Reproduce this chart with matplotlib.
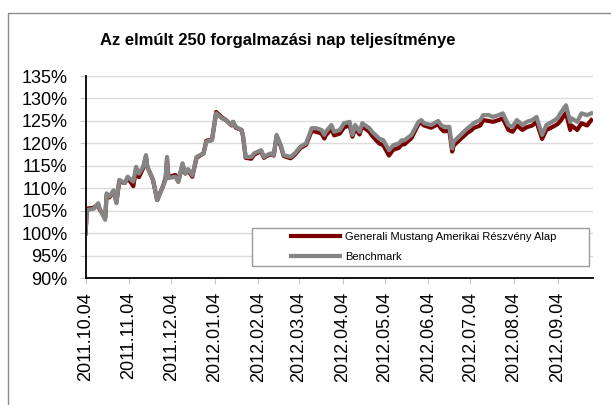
import matplotlib
matplotlib.use('Agg')
import matplotlib.pyplot as plt
import matplotlib.dates as mdates
from matplotlib.patches import Rectangle
from matplotlib.legend_handler import HandlerLine2D
from matplotlib.ticker import FuncFormatter
import pandas as pd

# values (index, %)
dates = ['2011-10-04', '2011-10-05', '2011-10-10', '2011-10-13', '2011-10-14', '2011-10-18',
         '2011-10-19', '2011-10-21', '2011-10-24', '2011-10-26', '2011-10-28', '2011-11-01',
         '2011-11-03', '2011-11-07', '2011-11-09', '2011-11-11', '2011-11-14', '2011-11-16',
         '2011-11-17', '2011-11-21', '2011-11-24', '2011-11-28', '2011-11-30', '2011-12-01',
         '2011-12-02', '2011-12-07', '2011-12-09', '2011-12-12', '2011-12-14', '2011-12-16',
         '2011-12-19', '2011-12-22', '2011-12-27', '2011-12-29', '2012-01-02', '2012-01-05',
         '2012-01-09', '2012-01-12', '2012-01-16', '2012-01-17', '2012-01-19', '2012-01-23',
         '2012-01-24', '2012-01-26', '2012-01-30', '2012-02-01', '2012-02-06', '2012-02-08',
         '2012-02-10', '2012-02-13', '2012-02-15', '2012-02-17', '2012-02-20', '2012-02-22',
         '2012-02-27', '2012-03-01', '2012-03-05', '2012-03-09', '2012-03-13', '2012-03-16',
         '2012-03-20', '2012-03-22', '2012-03-23', '2012-03-27', '2012-03-29', '2012-04-02',
         '2012-04-05', '2012-04-09', '2012-04-11', '2012-04-13', '2012-04-16', '2012-04-18',
         '2012-04-23', '2012-04-25', '2012-04-30', '2012-05-03', '2012-05-07', '2012-05-10',
         '2012-05-14', '2012-05-16', '2012-05-18', '2012-05-23', '2012-05-28', '2012-05-30',
         '2012-06-01', '2012-06-06', '2012-06-11', '2012-06-13', '2012-06-15', '2012-06-19',
         '2012-06-21', '2012-06-22', '2012-06-27', '2012-07-02', '2012-07-05', '2012-07-06',
         '2012-07-11', '2012-07-13', '2012-07-17', '2012-07-20', '2012-07-24', '2012-07-27',
         '2012-07-31', '2012-08-03', '2012-08-06', '2012-08-10', '2012-08-13', '2012-08-17',
         '2012-08-20', '2012-08-24', '2012-08-27', '2012-08-31', '2012-09-04', '2012-09-06',
         '2012-09-10', '2012-09-13', '2012-09-14', '2012-09-18', '2012-09-21', '2012-09-25',
         '2012-09-28']

fund = [100.0, 105.5, 105.7, 106.5, 105.3, 103.5, 108.5, 108.0, 109.3, 107.0, 111.5, 111.2,
        112.4, 110.5, 114.3, 112.5, 114.5, 117.0, 114.8, 111.9, 107.4, 110.4, 112.3, 116.5,
        112.5, 113.0, 111.5, 115.2, 113.3, 114.0, 112.6, 116.8, 117.8, 120.6, 120.8, 127.0,
        125.8, 125.2, 124.0, 124.8, 123.5, 123.0, 121.8, 116.8, 116.6, 117.5, 118.3, 116.8,
        117.2, 117.6, 117.3, 121.6, 119.4, 117.2, 116.7, 117.5, 119.0, 119.7, 122.8, 122.6,
        122.2, 121.1, 121.8, 123.2, 121.8, 122.2, 123.6, 124.0, 121.5, 123.4, 122.0, 123.8,
        122.6, 121.7, 120.0, 119.6, 117.3, 118.6, 119.0, 119.8, 119.8, 121.2, 124.3, 124.6,
        124.0, 123.5, 124.3, 123.3, 122.7, 122.8, 118.2, 119.5, 121.0, 122.4, 123.0, 123.4,
        124.0, 125.2, 125.0, 124.8, 125.2, 125.6, 123.0, 122.6, 124.0, 123.0, 123.6, 124.0,
        124.8, 121.0, 123.0, 123.6, 124.3, 125.0, 126.8, 123.0, 124.0, 123.0, 124.5, 124.0,
        125.2]

benchmark = [100.0, 105.2, 105.5, 106.7, 105.5, 103.0, 108.9, 108.2, 109.6, 106.7, 111.9, 111.2,
             112.6, 111.5, 114.8, 113.3, 114.8, 117.4, 114.8, 111.9, 107.4, 110.4, 111.9, 117.0,
             112.3, 112.6, 111.5, 115.6, 113.3, 114.3, 112.9, 117.0, 117.8, 120.4, 120.7, 126.7,
             125.6, 125.2, 124.1, 124.8, 123.7, 123.0, 121.9, 117.0, 117.0, 117.8, 118.5, 117.0,
             117.4, 117.8, 117.4, 121.9, 119.6, 117.4, 117.0, 117.8, 119.3, 120.0, 123.4, 123.4,
             123.0, 121.9, 122.6, 124.1, 122.6, 123.0, 124.5, 124.8, 121.9, 124.1, 122.6, 124.5,
             123.4, 122.6, 121.1, 120.7, 118.5, 119.6, 120.0, 120.7, 120.7, 121.9, 124.8, 125.2,
             124.5, 124.1, 125.0, 124.1, 123.7, 123.7, 118.9, 120.4, 121.9, 123.4, 124.1, 124.5,
             125.2, 126.3, 126.3, 125.9, 126.3, 126.7, 124.1, 123.7, 125.2, 124.1, 124.8, 125.2,
             125.9, 121.9, 124.1, 124.8, 125.6, 126.7, 128.5, 124.8, 125.6, 124.8, 126.7, 126.3,
             126.7]

tick_dates = ['2011-10-04', '2011-11-04', '2011-12-04', '2012-01-04', '2012-02-04', '2012-03-04',
              '2012-04-04', '2012-05-04', '2012-06-04', '2012-07-04', '2012-08-04', '2012-09-04']
y_ticks = [90, 95, 100, 105, 110, 115, 120, 125, 130, 135]

fund_label = 'Generali Mustang Amerikai Részvény Alap'
bench_label = 'Benchmark'
title = 'Az elmúlt 250 forgalmazási nap teljesítménye'

plt.rcParams['font.family'] = ['Liberation Sans', 'DejaVu Sans']

x = pd.to_datetime(dates)
ticks = pd.to_datetime(tick_dates)

fig = plt.figure(figsize=(6.11, 4.05), dpi=100)
ax = fig.add_axes([0.140, 0.3128, 0.830, 0.4995])

ax.plot(x, fund, color='#7a0000', lw=3.0, label=fund_label, solid_joinstyle='round')
ax.plot(x, benchmark, color='#858585', lw=3.0, label=bench_label, solid_joinstyle='round')

ax.set_xlim(pd.Timestamp('2011-10-04'), pd.Timestamp('2012-09-29'))
ax.set_ylim(90, 135)
ax.set_yticks(y_ticks)
ax.yaxis.set_major_formatter(FuncFormatter(lambda v, p: f'{v:.0f}%'))
ax.set_xticks(ticks)
ax.xaxis.set_major_formatter(mdates.DateFormatter('%Y.%m.%d'))

ax.grid(axis='y', color='#dcdcdc', lw=1.0)
ax.set_axisbelow(True)
for s in ['top', 'right']:
    ax.spines[s].set_visible(False)
for s in ['left', 'bottom']:
    ax.spines[s].set_linewidth(1.3)
    ax.spines[s].set_color('black')

ax.tick_params(axis='y', length=4, color='#c8c8c8', labelsize=13, pad=9)
ax.tick_params(axis='x', length=4, color='#c8c8c8', labelsize=13, pad=6, labelrotation=90)

leg = ax.legend(bbox_to_anchor=(0.412, 0.343, 0.552, 0.109), bbox_transform=fig.transFigure,
                loc='lower left', mode='expand', borderaxespad=0, fontsize=8,
                handlelength=7.56, handletextpad=0.45, borderpad=0.4, labelspacing=0.84,
                fancybox=False, framealpha=1, edgecolor='#9a9a9a',
                handler_map={plt.Line2D: HandlerLine2D(xpad=3.12)})
leg.get_frame().set_linewidth(1.0)

fig.text(100 / 611, 1 - 40 / 405, title, fontsize=12, fontweight='bold', ha='left', va='center')

# outer frame of the chart object
fig.patches.append(Rectangle((8.3 / 611, -0.1), 1.2, (405 - 13.3) / 405 + 0.1,
                             transform=fig.transFigure, fill=False, edgecolor='#8c8c8c', lw=1.0))

fig.savefig('out.png', dpi=100)
plt.close(fig)
